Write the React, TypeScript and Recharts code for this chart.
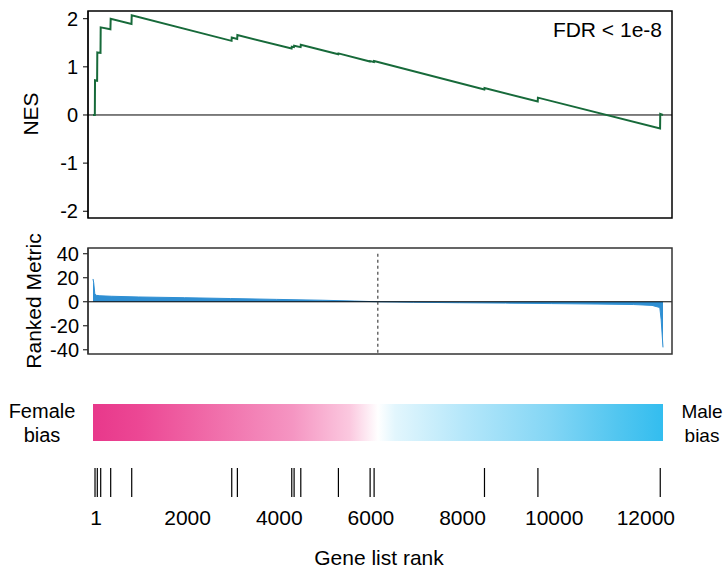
import {
  LineChart,
  Line,
  AreaChart,
  Area,
  ComposedChart,
  Scatter,
  XAxis,
  YAxis,
  ReferenceLine,
  ReferenceArea,
} from "recharts";

const totalGenes = 12440;
const zeroCrossRank = 6216;

// positions of the gene set members in the ranked list
const hitRanks = [44, 94, 168, 386, 845, 3028, 3151, 4338, 4389, 4535, 5356, 6048, 6135, 8544, 9710, 12380];

// running enrichment score, corners of the curve
const nesRanks = [
  0, 40, 44, 90, 94, 164, 168, 380, 386, 840, 845, 3024, 3028, 3147, 3151, 4334, 4338,
  4385, 4389, 4531, 4535, 5352, 5356, 6044, 6048, 6131, 6135, 8540, 8544, 9706, 9710,
  12376, 12380, 12440,
];
const nesValues = [
  0, 0, 0.72, 0.71, 1.3, 1.29, 1.82, 1.78, 2.0, 1.89, 2.07, 1.54, 1.61, 1.58, 1.66, 1.38, 1.42,
  1.41, 1.44, 1.41, 1.46, 1.26, 1.28, 1.11, 1.12, 1.1, 1.12, 0.53, 0.56, 0.28, 0.36,
  -0.28, 0.02, 0.0,
];

// ranked metric profile
const metricRanks = [
  0, 15, 40, 70, 150, 400, 1000, 2000, 3000, 4000, 5000, 5700, 6216, 7000, 8000, 9000,
  10000, 11000, 11800, 12200, 12370, 12400, 12440,
];
const metricValues = [
  19, 16, 6.5, 5.4, 5.0, 4.6, 4.0, 3.4, 2.7, 2.0, 1.3, 0.6, 0, -0.4, -0.8, -1.1,
  -1.5, -1.9, -2.3, -3.0, -4.8, -15, -38,
];

const nesTicks = [-2, -1, 0, 1, 2];
const metricTicks = [-40, -20, 0, 20, 40];
const rankTicks = [1, 2000, 4000, 6000, 8000, 10000, 12000];

// female -> male colour strip
const stripOffsets = [0, 0.08, 0.2, 0.35, 0.45, 0.5, 0.53, 0.65, 0.8, 0.92, 1];
const stripColors = [
  "#e8388b", "#ec4794", "#f06aa8", "#f595c2", "#fbc8df", "#ffffff",
  "#e2f6fd", "#b5e7fa", "#84d6f5", "#52c6f0", "#33bdef",
];

// bottom panel uses a 0..100 vertical frame: strip on top, hit ticks below
const hitRowLevel = 17.5;

const nesData = nesRanks.map((rank, i) => ({ rank, nes: nesValues[i] }));
const metricData = metricRanks.map((rank, i) => ({ rank, metric: metricValues[i] }));
const hitData = hitRanks.map((rank) => ({ rank, level: hitRowLevel }));

const xPad = { left: 5, right: 9 };
const tickStyle = { fill: "#000", fontSize: 20 };

const HitMark = (props: any) => {
  const { cx, cy } = props;
  if (cx == null || cy == null) return null;
  return <line x1={cx} x2={cx} y1={cy - 14.5} y2={cy + 14.5} stroke="#000" strokeWidth={1.2} />;
};

export default function App() {
  return (
    <div
      style={{
        position: "absolute",
        left: 0,
        top: 0,
        width: 725,
        height: 571,
        background: "#fff",
        overflow: "hidden",
        fontFamily: '"Liberation Sans", Arial, sans-serif',
      }}
    >
      <div style={{ position: "absolute", left: 0, top: 0 }}>
        <LineChart width={725} height={230} data={nesData} margin={{ top: 11, right: 53, bottom: 12, left: 0 }}>
          <XAxis dataKey="rank" type="number" domain={[0, totalGenes]} padding={xPad} hide />
          <YAxis
            type="number"
            domain={[-2.14, 2.16]}
            ticks={nesTicks}
            interval={0}
            width={88}
            tick={tickStyle}
            tickSize={5}
            tickMargin={5}
            axisLine={{ stroke: "#000" }}
            tickLine={{ stroke: "#000" }}
          />
          <ReferenceLine y={0} stroke="#000" strokeWidth={1} />
          <Line
            type="linear"
            dataKey="nes"
            stroke="#176a3a"
            strokeWidth={2}
            dot={false}
            isAnimationActive={false}
          />
        </LineChart>
      </div>

      <div style={{ position: "absolute", left: 0, top: 230 }}>
        <AreaChart width={725} height={130} data={metricData} margin={{ top: 18, right: 53, bottom: 6, left: 0 }}>
          <XAxis dataKey="rank" type="number" domain={[0, totalGenes]} padding={xPad} hide />
          <YAxis
            type="number"
            domain={[-43.5, 44.8]}
            ticks={metricTicks}
            interval={0}
            width={88}
            tick={tickStyle}
            tickSize={5}
            tickMargin={4}
            axisLine={{ stroke: "#000" }}
            tickLine={{ stroke: "#000" }}
          />
          <Area
            type="linear"
            dataKey="metric"
            stroke="#2f8fd3"
            fill="#2f8fd3"
            fillOpacity={1}
            strokeWidth={1}
            isAnimationActive={false}
          />
          <ReferenceLine y={0} stroke="#000" strokeWidth={1} />
          <ReferenceLine
            segment={[
              { x: zeroCrossRank, y: 40 },
              { x: zeroCrossRank, y: -43.5 },
            ]}
            stroke="#444"
            strokeWidth={1.2}
            strokeDasharray="3 3"
          />
        </AreaChart>
      </div>

      <div style={{ position: "absolute", left: 0, top: 390 }}>
        <ComposedChart width={725} height={181} data={hitData} margin={{ top: 10, right: 53, bottom: 41, left: 88 }}>
          <defs>
            <linearGradient id="rankStrip" x1="0" y1="0" x2="1" y2="0">
              {stripOffsets.map((o, i) => (
                <stop key={i} offset={o} stopColor={stripColors[i]} />
              ))}
            </linearGradient>
          </defs>
          <XAxis
            dataKey="rank"
            type="number"
            domain={[0, totalGenes]}
            padding={xPad}
            ticks={rankTicks}
            interval={0}
            height={30}
            axisLine={false}
            tickLine={false}
            tickSize={0}
            tickMargin={10}
            tick={{ fill: "#000", fontSize: 21, dx: 3 }}
          />
          <YAxis dataKey="level" type="number" domain={[0, 100]} hide />
          <ReferenceArea
            x1={0}
            x2={totalGenes}
            y1={59}
            y2={96}
            fill="url(#rankStrip)"
            fillOpacity={1}
            stroke="none"
            ifOverflow="visible"
          />
          <Scatter dataKey="level" shape={<HitMark />} isAnimationActive={false} />
        </ComposedChart>
      </div>

      <svg width={725} height={571} style={{ position: "absolute", left: 0, top: 0, pointerEvents: "none" }}>
        <rect x={88} y={11} width={584} height={207} fill="none" stroke="#000" strokeWidth={1.5} />
        <rect x={88} y={248} width={584} height={106} fill="none" stroke="#333" strokeWidth={1.5} />
        <text x={662} y={37} textAnchor="end" fontSize={21} fill="#000">
          FDR &lt; 1e-8
        </text>
        <text transform="translate(38,114) rotate(-90)" textAnchor="middle" fontSize={21} fill="#000">
          NES
        </text>
        <text transform="translate(41,301) rotate(-90)" textAnchor="middle" fontSize={21} fill="#000">
          Ranked Metric
        </text>
        <text x={42} y={418} textAnchor="middle" fontSize={20} fill="#000">
          Female
        </text>
        <text x={42} y={442} textAnchor="middle" fontSize={20} fill="#000">
          bias
        </text>
        <text x={702} y={418} textAnchor="middle" fontSize={19} fill="#000">
          Male
        </text>
        <text x={702} y={442} textAnchor="middle" fontSize={19} fill="#000">
          bias
        </text>
        <text x={379} y={565} textAnchor="middle" fontSize={21} fill="#000">
          Gene list rank
        </text>
      </svg>
    </div>
  );
}
